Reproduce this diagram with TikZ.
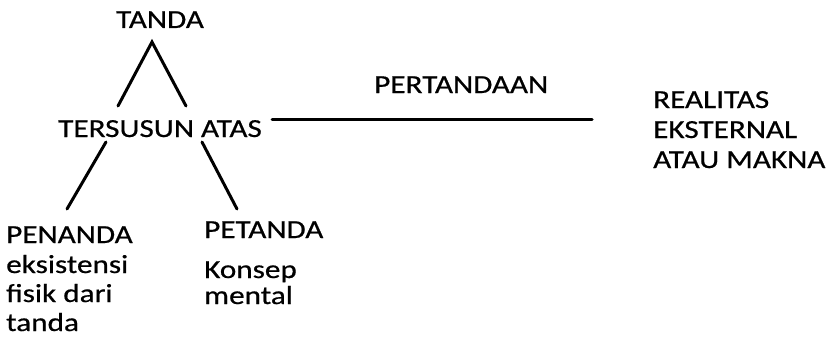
\documentclass[tikz,border=0pt]{standalone}
\usepackage{fontspec}
\setmainfont{Carlito}[FakeStretch=1.2,FakeBold=0.6]
\tikzset{
  lbl/.style={inner sep=0pt,anchor=base west,font=\fontsize{26}{30}\selectfont},
  leg/.style={line width=3pt,line cap=round}
}
\begin{document}
\begin{tikzpicture}[x=1pt,y=-1pt]
\useasboundingbox (0,0) rectangle (829,345);
% tanda
\node[lbl,anchor=base] (tanda) at (160,28) {TANDA};
% tersusun atas
\node[lbl] (tersusun) at (58,137) {TERSUSUN ATAS};
% pertandaan
\node[lbl] (pertandaan) at (374,93) {PERTANDAAN};
% realitas eksternal
\node[lbl] (real1) at (653,108) {REALITAS};
\node[lbl] (real2) at (653,138) {EKSTERNAL};
\node[lbl] (real3) at (653,168) {ATAU MAKNA};
% penanda
\node[lbl] (penanda) at (6,243) {PENANDA};
\node[lbl] (pen1) at (6,273) {eksistensi};
\node[lbl] (pen2) at (6,302) {fisik dari};
\node[lbl] (pen3) at (6,331) {tanda};
% petanda
\node[lbl] (petanda) at (204,238) {PETANDA};
\node[lbl] (pet1) at (204,278) {Konsep};
\node[lbl] (pet2) at (204,304) {mental};
% line ends
\coordinate (apex) at (152,42);
\coordinate (tl) at (118,106);
\coordinate (tr) at (186,106);
\coordinate (bl-top) at (106,142);
\coordinate (bl) at (67,209);
\coordinate (br-top) at (202,142);
\coordinate (br) at (237,209);
\coordinate (h-left) at (272,119);
\coordinate (h-right) at (592,119);
% tanda -> tersusun atas
\draw[leg] (tl) -- (apex) -- (tr);
% tersusun atas -> penanda, petanda
\draw[leg] (bl-top) -- (bl);
\draw[leg] (br-top) -- (br);
% pertandaan
\draw[leg] (h-left) -- (h-right);
\end{tikzpicture}
\end{document}
